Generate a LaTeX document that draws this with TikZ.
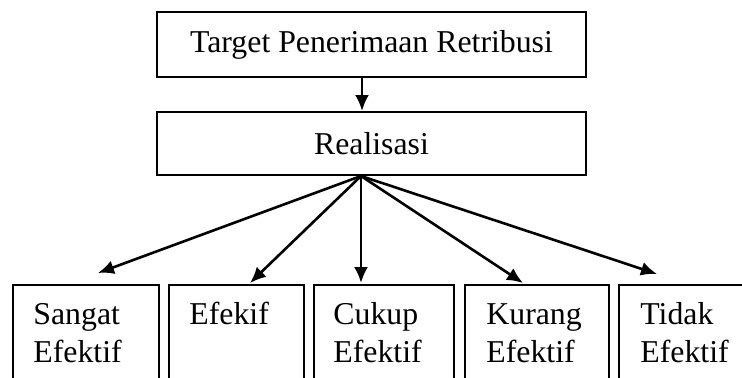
\documentclass[tikz,border=0pt]{standalone}
\usepackage{fontspec}
\setmainfont{Liberation Serif}
\usetikzlibrary{arrows.meta,calc}

\tikzset{
  box/.style={draw, line width=1pt, minimum width=214.5pt, inner sep=0pt},
  leaf/.style={draw, line width=1pt, anchor=north west, minimum height=60pt, inner sep=0pt},
  word/.style={anchor=base west, align=left, text width=60pt, inner sep=0pt},
  arrow/.style={-{Latex[length=8pt,width=7pt]}, line width=1.3pt}
}

\begin{document}
\begin{tikzpicture}[x=0.5pt,y=-0.5pt,font=\fontsize{15.9}{19}\selectfont]
    \useasboundingbox (0,0) rectangle (742,377);
    % upper boxes
    \node[box, minimum height=32.5pt] (target) at (371.5,44.5) {Target Penerimaan Retribusi};
    \node[box, minimum height=31.5pt] (real) at (371.5,143.5) {Realisasi};
    \draw[arrow] ([xshift=-4.75pt]target.south) -- ([xshift=-4.75pt]real.north);
    % lower boxes
    \node[leaf, minimum width=73pt] (sangat) at (12,284) {};
    \node[leaf, minimum width=67.5pt] (efekif) at (168,284) {};
    \node[leaf, minimum width=70pt] (cukup) at (313,284) {};
    \node[leaf, minimum width=72pt] (kurang) at (464,284) {};
    \node[leaf, minimum width=71pt] (tidak) at (618,284) {};
    \node[word] (sangat-t) at ($(sangat.north west)+(21,40)$) {Sangat\\Efektif};
    \node[word] (efekif-t) at ($(efekif.north west)+(21,40)$) {Efekif};
    \node[word] (cukup-t) at ($(cukup.north west)+(20,40)$) {Cukup\\Efektif};
    \node[word] (kurang-t) at ($(kurang.north west)+(22,40)$) {Kurang\\Efektif};
    \node[word] (tidak-t) at ($(tidak.north west)+(22,40)$) {Tidak\\Efektif};
    % fan of arrows
    \coordinate (fan) at ($(real.south)+(-10.5,0)$);
    \draw[arrow] (fan) -- ($(sangat.north west)+(86,-11)$);
    \draw[arrow] (fan) -- ($(efekif.north west)+(82,-1)$);
    \draw[arrow] (fan) -- ($(cukup.north west)+(48,-1)$);
    \draw[arrow] (fan) -- ($(kurang.north west)+(59,-1)$);
    \draw[arrow] (fan) -- ($(tidak.north west)+(39,-10)$);
\end{tikzpicture}
\end{document}
